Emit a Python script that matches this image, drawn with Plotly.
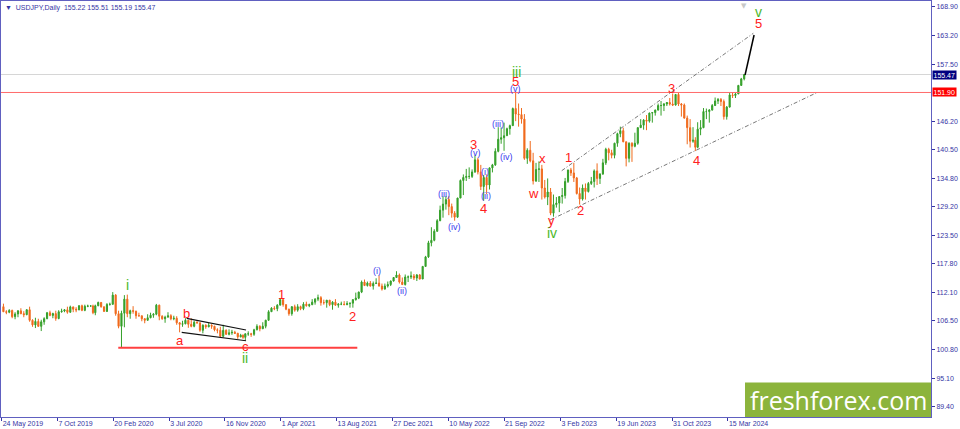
import numpy as np
import pandas as pd
import plotly.graph_objects as go

# x axis = trading bar number, counted from the first bar on the chart
first_bar = "2019-05-24"
no_trade_days = ["2019-12-25", "2020-01-01", "2020-12-25", "2021-01-01",
                 "2023-12-25", "2024-01-01"]

# weekly candles (week ending Friday)
week_end = pd.date_range("2019-05-31", "2024-04-26", freq="W-FRI")
first_open = 109.30

close_2019 = [108.29, 108.19, 108.56, 107.32, 107.85, 108.47, 107.91, 107.71, 108.69, 106.59,
              105.68, 106.37, 105.39, 106.28, 106.92, 108.09, 107.56, 107.92, 106.94, 108.29,
              108.44, 108.67, 108.19, 109.26, 108.79, 108.66, 109.49, 108.57, 109.38, 109.43, 109.44]
high_2019 = [109.9, 108.6, 108.8, 108.7, 108.2, 108.6, 108.99, 108.4, 108.8, 109.3,
             106.8, 107.1, 106.9, 106.7, 107.2, 108.25, 108.5, 108.1, 108.5, 108.6,
             108.9, 108.8, 109.3, 109.5, 109.3, 109.2, 109.6, 109.7, 109.7, 109.7, 109.6]
low_2019 = [108.28, 107.8, 108.0, 107.0, 106.8, 107.2, 107.8, 107.2, 107.6, 106.3,
            105.3, 105.05, 105.3, 104.45, 105.7, 106.8, 107.4, 107.0, 106.5, 106.8,
            108.1, 108.2, 107.9, 108.1, 108.2, 108.2, 108.6, 108.4, 108.4, 109.2, 109.3]

close_2020 = [108.11, 109.48, 110.14, 109.28, 108.35, 109.75, 109.77, 111.6, 107.9, 105.4,
              108.0, 110.8, 107.9, 108.5, 108.4, 107.5, 107.5, 106.9, 106.6, 107.1,
              107.6, 107.8, 109.6, 107.4, 106.9, 107.2, 107.5, 106.9, 107.0, 106.1,
              105.8, 105.9, 106.6, 105.8, 105.4, 106.2, 106.1, 104.6, 105.6, 105.3,
              105.6, 105.4, 104.7, 104.6, 103.4, 104.6, 103.8, 104.1, 104.2, 104.0, 103.3, 103.6]
high_2020 = [109.7, 109.7, 110.3, 110.2, 109.3, 110.0, 110.1, 112.2, 111.8, 108.5,
             108.5, 111.6, 111.7, 108.7, 109.4, 108.5, 108.1, 107.5, 107.0, 107.8,
             108.1, 108.0, 109.85, 109.7, 107.6, 107.5, 108.2, 107.8, 107.5, 107.4,
             106.2, 106.5, 107.0, 106.6, 107.0, 106.5, 106.4, 106.1, 105.8, 105.8,
             106.1, 105.8, 105.5, 105.0, 105.3, 105.7, 104.8, 104.8, 104.7, 104.5, 104.1, 103.9]
low_2020 = [107.8, 107.6, 109.4, 109.1, 108.3, 108.3, 109.5, 109.7, 107.5, 105.0,
            101.2, 105.2, 107.2, 106.9, 107.9, 106.9, 107.3, 106.4, 106.0, 106.5,
            107.0, 107.1, 107.6, 106.6, 106.7, 106.1, 107.2, 106.6, 106.6, 105.7,
            104.2, 105.3, 105.8, 105.1, 105.2, 105.2, 105.9, 104.3, 104.0, 104.9,
            105.2, 104.9, 104.4, 104.0, 103.2, 103.2, 103.7, 103.6, 103.7, 103.9, 102.9, 103.2]

close_2021 = [103.2, 103.9, 103.9, 103.8, 104.7, 105.4, 104.9, 105.4, 106.6, 108.3,
              109.0, 108.9, 109.6, 110.7, 109.7, 108.8, 107.9, 109.3, 108.6, 109.3,
              108.9, 109.8, 109.5, 109.7, 110.2, 110.8, 111.1, 110.1, 110.1, 110.6,
              109.7, 110.2, 109.6, 109.8, 109.8, 109.7, 109.9, 110.0, 110.7, 111.0,
              112.2, 114.2, 113.5, 114.0, 113.4, 113.9, 114.0, 113.4, 112.8, 113.4,
              113.7, 114.4, 115.1]
high_2021 = [103.8, 104.0, 104.4, 104.1, 104.9, 105.8, 105.6, 106.2, 106.7, 108.6,
             109.2, 109.4, 109.8, 110.97, 110.8, 109.8, 108.9, 109.4, 109.7, 109.8,
             109.5, 110.2, 110.3, 109.9, 110.8, 111.0, 111.7, 111.4, 110.7, 110.6,
             110.6, 110.4, 110.8, 110.0, 110.3, 110.4, 110.4, 110.1, 110.8, 112.1,
             112.3, 114.5, 114.7, 114.3, 114.4, 114.3, 114.95, 115.5, 113.9, 113.9,
             114.3, 114.5, 115.2]
low_2021 = [102.9, 102.6, 103.5, 103.3, 103.5, 104.6, 104.4, 104.9, 105.0, 106.5,
            108.3, 108.6, 108.4, 109.6, 109.3, 108.6, 107.5, 107.5, 108.3, 108.3,
            108.6, 108.6, 109.3, 109.2, 109.6, 109.7, 110.4, 109.5, 109.7, 109.1,
            109.4, 108.7, 109.5, 109.1, 109.6, 109.6, 109.6, 109.1, 109.1, 110.5,
            110.8, 112.0, 113.4, 113.3, 113.3, 112.7, 113.9, 113.3, 112.5, 112.7,
            113.1, 113.4, 114.3]

close_2022 = [115.6, 114.2, 113.7, 115.2, 115.2, 115.4, 115.0, 115.6, 114.8, 117.3,
              119.2, 122.0, 122.5, 124.3, 126.4, 128.5, 129.7, 130.6, 129.2, 127.9,
              127.1, 130.9, 134.4, 135.0, 135.2, 135.2, 136.1, 138.5, 136.1, 133.2,
              135.0, 133.5, 136.9, 137.5, 140.2, 142.6, 142.9, 143.3, 144.7, 145.3,
              148.7, 147.6, 147.5, 146.6, 138.8, 140.4, 138.3, 134.3, 136.6, 136.7, 132.9, 131.1]
high_2022 = [116.35, 115.9, 115.1, 115.7, 115.5, 116.3, 115.8, 115.8, 115.8, 117.4,
             119.4, 122.4, 125.1, 124.7, 126.7, 129.4, 131.25, 131.3, 131.3, 129.8,
             128.3, 130.95, 134.6, 135.6, 136.7, 137.0, 136.6, 139.4, 138.9, 137.5,
             135.5, 135.6, 137.0, 137.7, 140.8, 144.99, 144.96, 145.9, 144.9, 145.5,
             148.9, 151.95, 149.7, 148.8, 147.6, 140.8, 142.25, 139.9, 137.9, 138.2, 137.5, 134.5]
low_2022 = [115.0, 113.9, 113.6, 113.5, 114.2, 114.8, 114.6, 114.4, 114.7, 114.8,
            117.3, 119.0, 121.3, 122.3, 124.2, 126.3, 127.0, 128.6, 127.5, 127.0,
            126.4, 127.0, 130.9, 131.5, 134.3, 134.7, 134.9, 135.9, 135.6, 132.5,
            130.4, 131.7, 132.6, 136.0, 137.3, 140.0, 141.7, 140.3, 143.3, 143.5,
            145.3, 146.2, 145.1, 145.7, 138.5, 137.7, 138.0, 133.6, 134.1, 134.1, 130.6, 130.8]

close_2023 = [132.1, 127.9, 129.6, 129.9, 131.2, 131.4, 134.2, 136.5, 135.9, 134.9,
              131.8, 130.7, 132.9, 132.2, 133.8, 134.2, 136.3, 134.8, 135.7, 137.9,
              140.6, 139.9, 139.4, 141.8, 143.7, 144.3, 142.1, 138.8, 141.8, 141.2,
              141.8, 144.9, 145.4, 146.4, 146.2, 147.8, 147.9, 148.4, 149.3, 149.3,
              149.6, 149.9, 149.6, 149.4, 151.5, 149.6, 149.4, 146.8, 144.9, 142.2, 142.4, 141.0]
high_2023 = [134.8, 132.9, 131.6, 131.1, 131.2, 132.9, 134.9, 136.5, 136.9, 137.9,
             135.1, 133.0, 133.6, 133.8, 134.1, 135.1, 136.6, 137.8, 135.8, 138.7,
             140.9, 140.9, 140.5, 141.9, 143.9, 145.1, 144.9, 142.1, 142.0, 142.0,
             143.9, 145.0, 146.6, 146.6, 147.4, 147.9, 147.95, 148.5, 149.7, 150.2,
             149.8, 150.0, 150.8, 151.7, 151.6, 151.9, 149.8, 149.7, 147.3, 146.6, 145.0, 143.0]
low_2023 = [129.5, 127.5, 127.2, 129.0, 128.1, 129.8, 130.8, 133.9, 135.3, 134.1,
            131.6, 129.6, 130.4, 130.6, 132.0, 133.5, 133.0, 133.5, 133.7, 135.5,
            137.5, 138.4, 138.8, 138.8, 141.1, 143.0, 142.0, 137.2, 138.0, 138.1,
            141.0, 141.5, 144.9, 144.5, 144.4, 145.9, 145.9, 147.3, 148.3, 147.3,
            148.2, 149.2, 149.3, 149.2, 149.3, 149.2, 147.1, 146.7, 141.6, 140.95, 141.9, 140.25]

close_2024 = [144.6, 144.9, 148.1, 148.1, 148.4, 149.3, 150.2, 150.5, 150.1, 147.1,
              149.0, 151.4, 151.3, 151.6, 153.3, 154.6, 155.47]
high_2024 = [145.98, 146.4, 148.8, 148.7, 148.6, 149.6, 150.9, 150.8, 150.8, 150.5,
             149.2, 151.9, 151.97, 151.9, 153.4, 154.8, 155.51]
low_2024 = [140.8, 143.4, 144.8, 146.6, 145.9, 148.3, 149.2, 149.6, 149.2, 146.5,
            146.5, 148.9, 150.8, 150.8, 151.6, 153.6, 154.3]

week_close = close_2019 + close_2020 + close_2021 + close_2022 + close_2023 + close_2024
week_high = high_2019 + high_2020 + high_2021 + high_2022 + high_2023 + high_2024
week_low = low_2019 + low_2020 + low_2021 + low_2022 + low_2023 + low_2024
week_open = [first_open] + week_close[:-1]

# price levels on the right scale
price_ticks = [168.90, 163.20, 157.50, 146.20, 140.50, 134.80, 129.20, 123.50,
               117.80, 112.10, 106.50, 100.80, 95.10, 89.40]
bid_level = 155.47
mark_level = 151.90

# date scale labels
date_ticks = ["2019-05-24", "2019-10-07", "2020-02-20", "2020-07-03", "2020-11-16",
              "2021-04-01", "2021-08-13", "2021-12-27", "2022-05-10", "2022-09-21",
              "2023-02-03", "2023-06-19", "2023-10-31", "2024-03-15"]
date_text = ["24 May 2019", "7 Oct 2019", "20 Feb 2020", "3 Jul 2020", "16 Nov 2020",
             "1 Apr 2021", "13 Aug 2021", "27 Dec 2021", "10 May 2022", "21 Sep 2022",
             "3 Feb 2023", "19 Jun 2023", "31 Oct 2023", "15 Mar 2024"]

# wave labels: text, bar number, price, kind
wave_labels = [
    ("i", 215.5, 113.6, "green"), ("ii", 418.5, 99.1, "green"),
    ("a", 306.7, 102.5, "red"), ("b", 317.0, 108.0, "red"), ("c", 418.5, 101.3, "red"),
    ("1", 480.4, 111.8, "red"), ("2", 602.5, 107.4, "red"),
    ("(i)", 646.2, 116.45, "blue"), ("(ii)", 689.0, 112.5, "blue"),
    ("(iii)", 760.7, 131.7, "blue"), ("(iv)", 778.5, 125.2, "blue"),
    ("3", 812.3, 141.6, "red"), ("(v)", 814.1, 139.8, "blue"),
    ("(i)", 831.3, 136.0, "blue"), ("(ii)", 833.0, 131.3, "blue"), ("4", 828.3, 128.9, "red"),
    ("(iii)", 853.2, 145.6, "blue"), ("(iv)", 868.6, 139.1, "blue"),
    ("iii", 885.8, 155.9, "green"), ("5", 884.1, 154.0, "red"), ("(v)", 884.1, 152.6, "blue"),
    ("w", 913.9, 131.85, "red"), ("x", 930.5, 138.7, "red"), ("y", 944.8, 126.5, "red"),
    ("iv", 947.0, 124.0, "green"),
    ("1", 974.4, 139.0, "red"), ("2", 994.7, 128.5, "red"),
    ("3", 1152.4, 152.7, "red"), ("4", 1195.4, 138.3, "red"),
    ("v", 1301.3, 168.0, "green"), ("5", 1301.3, 165.7, "red"),
]

# drawn lines: (bar, price) end points
support_line = [(200.5, 101.15), (611.6, 101.15)]
wedge_top = [(318.2, 106.99), (420.2, 104.66)]
wedge_bottom = [(309.6, 104.2), (420.2, 102.53)]
channel_top = [(963.2, 136.34), (1292.7, 163.67)]
channel_bottom = [(943.1, 126.54), (1401.8, 151.86)]
target_line = [(1278.5, 155.38), (1294.0, 163.33)]

label_style = {
    "red": dict(color="#ff2020", size=13),
    "green": dict(color="#4cb82a", size=14),
    "blue": dict(color="#3a3aee", size=9),
}

ink = "#3535a5"
tick_font = dict(family="Liberation Sans, Arial, sans-serif", size=7, color=ink)


def bar_no(days):
    return np.busday_count(first_bar, np.array(days, dtype="datetime64[D]"),
                           holidays=no_trade_days)


mid_week = (week_end - pd.Timedelta(days=2)).values.astype("datetime64[D]")
week_bar = bar_no(mid_week)
tick_bar = bar_no(date_ticks)

fig = go.Figure()

fig.add_trace(go.Candlestick(
    x=week_bar, open=week_open, high=week_high, low=week_low, close=week_close,
    increasing=dict(line=dict(color="#35a02a", width=1), fillcolor="#35a02a"),
    decreasing=dict(line=dict(color="#f06a1c", width=1), fillcolor="#f06a1c"),
    whiskerwidth=0, showlegend=False, hoverinfo="skip"))


def add_line(pts, color, width, dash="solid"):
    fig.add_trace(go.Scatter(
        x=[p[0] for p in pts], y=[p[1] for p in pts], mode="lines",
        line=dict(color=color, width=width, dash=dash),
        showlegend=False, hoverinfo="skip"))


add_line(support_line, "#ff4040", 2)
add_line(wedge_top, "#111111", 1.2)
add_line(wedge_bottom, "#111111", 1.2)
add_line(channel_top, "#555555", 0.8, "4px,2px,1px,2px")
add_line(channel_bottom, "#555555", 0.8, "4px,2px,1px,2px")
add_line(target_line, "#000000", 1.5)

# horizontal levels
fig.add_shape(type="line", xref="paper", x0=0, x1=1, y0=bid_level, y1=bid_level,
              line=dict(color="#d6d6d6", width=1), layer="below")
fig.add_shape(type="line", xref="paper", x0=0, x1=1, y0=mark_level, y1=mark_level,
              line=dict(color="#ff6a6a", width=1))

for txt, b, p, kind in wave_labels:
    st = label_style[kind]
    fig.add_annotation(x=b, y=p, text=txt, showarrow=False,
                       xanchor="center", yanchor="middle",
                       font=dict(family="Liberation Sans, Arial, sans-serif",
                                 size=st["size"], color=st["color"]))

# price boxes on the scale
for lvl, bg in [(bid_level, "#000080"), (mark_level, "#ff0000")]:
    fig.add_annotation(xref="paper", x=1, xanchor="left", xshift=1, y=lvl,
                       yanchor="middle", text=f"{lvl:.2f}", showarrow=False,
                       bgcolor=bg, borderpad=0.5,
                       font=dict(family="Liberation Sans, Arial, sans-serif",
                                 size=7, color="white"))

# chart caption
fig.add_annotation(xref="paper", yref="paper", x=0, y=1, xanchor="left", yanchor="top",
                   xshift=2, yshift=-1, showarrow=False,
                   text="\u25BC\u00a0\u00a0USDJPY,Daily\u00a0\u00a0155.22 155.51 155.19 155.47",
                   font=tick_font)
# shift marker
fig.add_annotation(x=int(week_bar[-1]), yref="paper", y=1, yanchor="top", yshift=1,
                   text="\u25BC", showarrow=False,
                   font=dict(family="DejaVu Sans", size=7, color="#c8c8c8"))

# watermark
fig.add_shape(type="rect", xref="paper", yref="paper", x0=0.8, x1=1, y0=0, y1=0.083,
              fillcolor="#8cb43c", line=dict(width=0))
fig.add_annotation(xref="paper", yref="paper", x=0.9, y=0.042, xanchor="center",
                   yanchor="middle", showarrow=False, text="freshforex.com",
                   font=dict(family="Open Sans", size=25, color="white"))

fig.update_layout(
    width=960, height=429,
    margin=dict(l=1, r=29, t=1, b=12),
    paper_bgcolor="white", plot_bgcolor="white",
    showlegend=False,
    xaxis=dict(range=[-1.2, 1598.3], rangeslider=dict(visible=False),
               tickmode="array", tickvals=tick_bar, ticktext=date_text,
               ticks="outside", ticklen=3, tickcolor=ink, tickfont=tick_font,
               ticklabelposition="outside right",
               showline=True, linecolor="#6060c0", linewidth=1, mirror=True,
               showgrid=False, zeroline=False),
    yaxis=dict(range=[87.36, 170.09], side="right",
               tickmode="array", tickvals=price_ticks,
               ticktext=[f"{v:.2f}" for v in price_ticks],
               ticks="outside", ticklen=3, tickcolor=ink, tickfont=tick_font,
               showline=True, linecolor="#6060c0", linewidth=1, mirror=True,
               showgrid=False, zeroline=False),
)

# the page's default body margin would push the 960x429 figure off the window
fig.write_html("out.html", config={"displayModeBar": False},
               post_script="document.body.style.margin = '0';")
